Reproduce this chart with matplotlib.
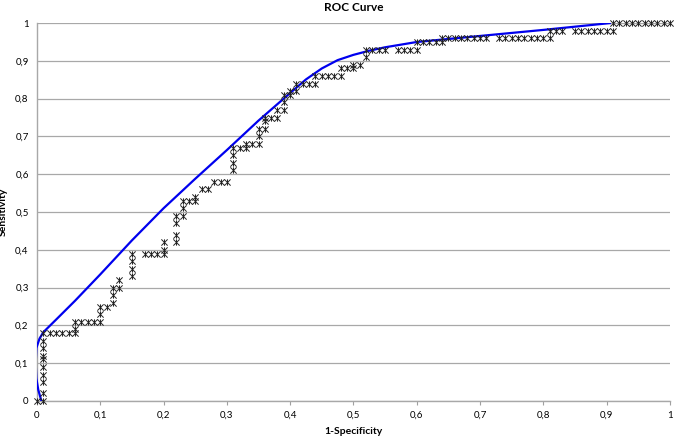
import numpy as np
import matplotlib
matplotlib.use("Agg")
import matplotlib.pyplot as plt
from matplotlib.path import Path
from matplotlib.ticker import FuncFormatter

# observed ROC points (1-specificity, sensitivity)
fpr = [0.00, 0.01, 0.01, 0.01, 0.01, 0.01, 0.01, 0.01, 0.01, 0.01, 0.01,
       0.02, 0.03, 0.04, 0.05, 0.06, 0.06, 0.06, 0.07, 0.08, 0.09, 0.10,
       0.10, 0.10, 0.11, 0.12, 0.12, 0.12, 0.13, 0.13,
       0.15, 0.15, 0.15, 0.15, 0.17, 0.18, 0.19, 0.20, 0.20, 0.20,
       0.22, 0.22, 0.22, 0.22, 0.23, 0.23, 0.23, 0.24, 0.25, 0.25,
       0.26, 0.27, 0.28, 0.29, 0.30, 0.31, 0.31, 0.31, 0.31, 0.32,
       0.33, 0.33, 0.34, 0.35, 0.35, 0.35, 0.36, 0.36, 0.36, 0.37,
       0.38, 0.38, 0.39, 0.39, 0.39, 0.40, 0.40, 0.41, 0.41, 0.42,
       0.43, 0.44, 0.44, 0.45, 0.46, 0.47, 0.48, 0.48, 0.49, 0.50,
       0.50, 0.51, 0.52, 0.52, 0.53, 0.54, 0.55, 0.57, 0.58, 0.59,
       0.60, 0.60, 0.61, 0.62, 0.63, 0.64, 0.64, 0.65, 0.66, 0.67,
       0.68, 0.69, 0.70, 0.71, 0.73, 0.74, 0.75, 0.76, 0.77, 0.78,
       0.79, 0.80, 0.81, 0.81, 0.82, 0.83, 0.85, 0.86, 0.87, 0.88,
       0.89, 0.90, 0.91, 0.91, 0.92, 0.93, 0.94, 0.95, 0.96, 0.97,
       0.98, 0.99, 1.00]
tpr = [0.00, 0.00, 0.02, 0.05, 0.07, 0.09, 0.11, 0.12, 0.14, 0.16, 0.18,
       0.18, 0.18, 0.18, 0.18, 0.18, 0.19, 0.21, 0.21, 0.21, 0.21, 0.21,
       0.23, 0.25, 0.25, 0.26, 0.28, 0.30, 0.30, 0.32,
       0.33, 0.35, 0.37, 0.39, 0.39, 0.39, 0.39, 0.39, 0.40, 0.42,
       0.42, 0.44, 0.47, 0.49, 0.49, 0.51, 0.53, 0.53, 0.53, 0.54,
       0.56, 0.56, 0.58, 0.58, 0.58, 0.61, 0.63, 0.65, 0.67, 0.67,
       0.67, 0.68, 0.68, 0.68, 0.70, 0.72, 0.72, 0.74, 0.75, 0.75,
       0.75, 0.77, 0.77, 0.79, 0.81, 0.81, 0.82, 0.82, 0.84, 0.84,
       0.84, 0.84, 0.86, 0.86, 0.86, 0.86, 0.86, 0.88, 0.88, 0.88,
       0.89, 0.89, 0.91, 0.93, 0.93, 0.93, 0.93, 0.93, 0.93, 0.93,
       0.93, 0.95, 0.95, 0.95, 0.95, 0.95, 0.96, 0.96, 0.96, 0.96,
       0.96, 0.96, 0.96, 0.96, 0.96, 0.96, 0.96, 0.96, 0.96, 0.96,
       0.96, 0.96, 0.96, 0.98, 0.98, 0.98, 0.98, 0.98, 0.98, 0.98,
       0.98, 0.98, 0.98, 1.00, 1.00, 1.00, 1.00, 1.00, 1.00, 1.00,
       1.00, 1.00, 1.00]

# fitted curve
fit_x = [0.007, 0.002, -0.001, -0.002, -0.001, 0.004, 0.010, 0.030, 0.060,
         0.100, 0.150, 0.200, 0.250, 0.300, 0.350, 0.400, 0.425, 0.450,
         0.475, 0.500, 0.525, 0.550, 0.600, 0.650, 0.700, 0.800, 0.905]
fit_y = [0.000, 0.030, 0.060, 0.100, 0.140, 0.165, 0.182, 0.215, 0.265,
         0.335, 0.425, 0.510, 0.588, 0.664, 0.742, 0.815, 0.851, 0.880,
         0.902, 0.916, 0.927, 0.936, 0.950, 0.958, 0.966, 0.982, 1.000]

ticks = [0, 0.1, 0.2, 0.3, 0.4, 0.5, 0.6, 0.7, 0.8, 0.9, 1]

star = Path([(-1, -1), (1, 1), (-1, 1), (1, -1), (0, -1), (0, 1)],
            [Path.MOVETO, Path.LINETO, Path.MOVETO, Path.LINETO,
             Path.MOVETO, Path.LINETO])

plt.rcParams['font.family'] = ['Lato', 'DejaVu Sans']

fig = plt.figure(figsize=(6.76, 4.36), dpi=100)
ax = fig.add_axes([0.0547, 0.0803, 0.9363, 0.8667])

ax.plot(fit_x, fit_y, color='#0000ee', lw=1.6, zorder=3)
ax.plot(fpr, tpr, linestyle='none', marker=star, markersize=4.5,
        markeredgewidth=0.7, color='#222222', zorder=4, clip_on=False)

ax.set_xlim(0, 1)
ax.set_ylim(0, 1)
ax.set_xticks(ticks)
ax.set_yticks(ticks)
fmt = FuncFormatter(lambda v, p: ('%g' % round(v, 1)).replace('.', ','))
ax.xaxis.set_major_formatter(fmt)
ax.yaxis.set_major_formatter(fmt)
ax.tick_params(axis='x', length=3, color='#a0a0a0', labelsize=7, pad=4)
ax.tick_params(axis='y', length=0, labelsize=7, pad=6)
ax.grid(axis='y', color='#a8a8a8', lw=0.9)
ax.set_axisbelow(True)
for s in ['top', 'right']:
    ax.spines[s].set_visible(False)
for s in ['left', 'bottom']:
    ax.spines[s].set_color('#a8a8a8')
    ax.spines[s].set_linewidth(1.0)

ax.set_title('ROC Curve', fontsize=8.5, fontweight='bold', pad=9)
ax.set_xlabel('1-Specificity', fontsize=7.5, fontweight='bold', labelpad=5)
ax.set_ylabel('Sensitivity', fontsize=7.5, fontweight='bold')
ax.yaxis.set_label_coords(-0.046, 0.5)

fig.savefig('out.png', dpi=100)
